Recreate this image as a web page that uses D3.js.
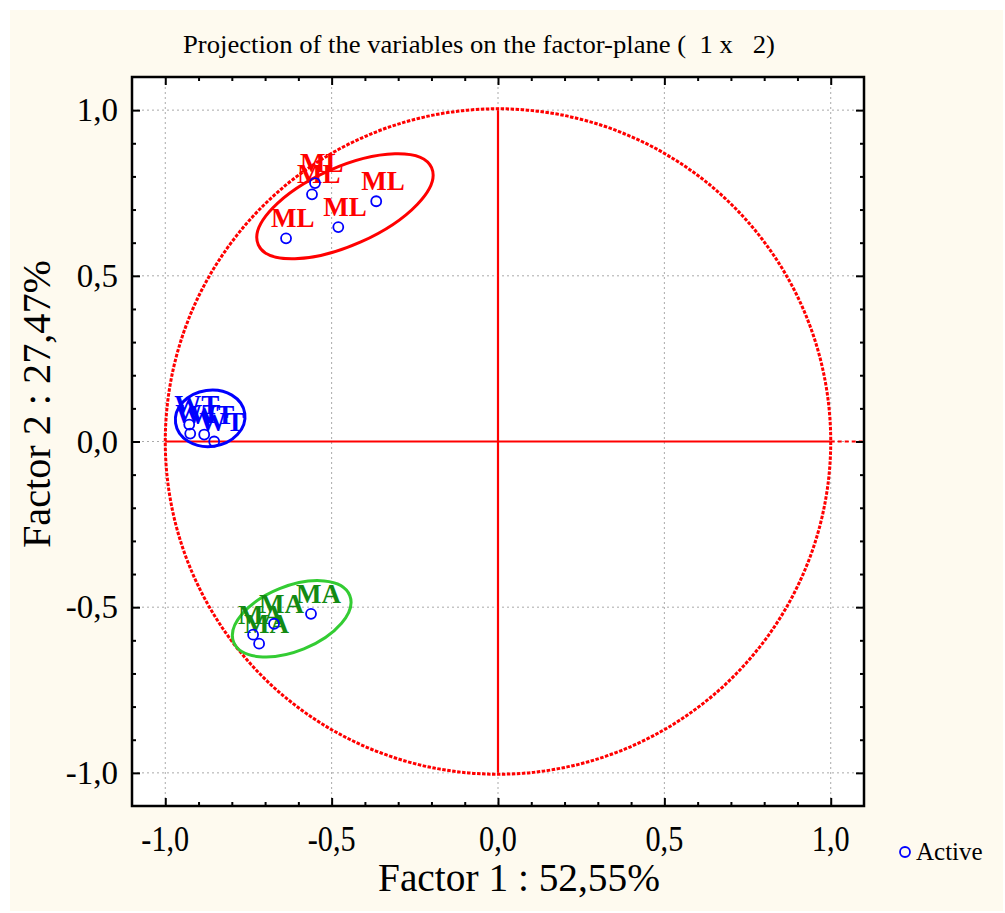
<!DOCTYPE html>
<html>
<head>
<meta charset="utf-8">
<script src="https://cdn.jsdelivr.net/npm/d3@7"></script>
<style>
  body { margin: 0; background: #fff; }
  svg text { font-family: "Liberation Serif", "Times New Roman", Times, serif; }
</style>
</head>
<body>
<div id="container"></div>
<script>
// variable coordinates on factor 1 / factor 2
var mlX = [-0.637, -0.559, -0.550, -0.480, -0.366];
var mlY = [0.613, 0.746, 0.780, 0.647, 0.725];
var wtX = [-0.928, -0.925, -0.883, -0.853];
var wtY = [0.051, 0.024, 0.021, 0.000];
var maX = [-0.736, -0.718, -0.673, -0.562];
var maY = [-0.583, -0.610, -0.550, -0.520];

var groupNames = ['ML', 'WT', 'MA'];
var groupColors = ['#ff0000', '#0000ff', '#138a13'];
var ellipseColors = ['#ff0000', '#0000ff', '#33cc33'];
// ellipse centre, radii (factor units) and tilt (degrees)
var ellCx = [-0.46, -0.865, -0.62];
var ellCy = [0.710, 0.070, -0.535];
var ellRx = [0.285, 0.105, 0.188];
var ellRy = [0.118, 0.085, 0.098];
var ellRot = [-24, -8, -22];

var ticks = [-1.0, -0.5, 0.0, 0.5, 1.0];
var tickLabels = ['-1,0', '-0,5', '0,0', '0,5', '1,0'];
var minorTicks = d3.range(-10, 11).map(function(d) { return d / 10; });

var title = 'Projection of the variables on the factor-plane (  1 x   2)';
var xTitle = 'Factor 1 : 52,55%';
var yTitle = 'Factor 2 : 27,47%';

(function() {
  var width = 1005, height = 913;
  var left = 132, right = 864, top = 77, bottom = 806;
  var serif = '"Liberation Serif", "Times New Roman", serif';

  var svg = d3.select('#container').append('svg')
    .attr('width', width).attr('height', height)
    .attr('font-family', serif);

  svg.append('rect')
    .attr('x', 10).attr('y', 10)
    .attr('width', width - 12).attr('height', height - 12)
    .attr('fill', '#fefaef');

  var x = d3.scaleLinear().domain([-1.1, 1.1]).range([left, right]);
  var y = d3.scaleLinear().domain([-1.1, 1.1]).range([bottom, top]);

  svg.append('rect')
    .attr('x', left).attr('y', top)
    .attr('width', right - left).attr('height', bottom - top)
    .attr('fill', '#fff');

  // grid
  var grid = svg.append('g').attr('stroke', '#aaa').attr('stroke-dasharray', '2,3').attr('stroke-width', 1);
  ticks.forEach(function(t) {
    grid.append('line').attr('x1', x(t)).attr('x2', x(t)).attr('y1', top).attr('y2', bottom);
    grid.append('line').attr('y1', y(t)).attr('y2', y(t)).attr('x1', left).attr('x2', right);
  });

  // unit circle and axes through origin
  svg.append('circle')
    .attr('cx', x(0)).attr('cy', y(0)).attr('r', x(1) - x(0))
    .attr('fill', 'none').attr('stroke', '#ff0000')
    .attr('stroke-width', 3).attr('stroke-dasharray', '3.5,1.5');
  svg.append('line')
    .attr('x1', x(0)).attr('x2', x(0)).attr('y1', y(1)).attr('y2', y(-1))
    .attr('stroke', '#ff0000').attr('stroke-width', 2.2);
  svg.append('line')
    .attr('x1', x(-1)).attr('x2', x(1)).attr('y1', y(0)).attr('y2', y(0))
    .attr('stroke', '#ff0000').attr('stroke-width', 2.2);
  svg.append('line')
    .attr('x1', x(1)).attr('x2', right).attr('y1', y(0)).attr('y2', y(0))
    .attr('stroke', '#ff0000').attr('stroke-width', 2.2).attr('stroke-dasharray', '4,3');

  // axes with inward ticks on all four sides
  function drawAxis(axis, transform) {
    var g = svg.append('g').attr('transform', transform)
      .call(axis.tickValues(minorTicks).tickSizeInner(-4).tickSizeOuter(0).tickFormat(''));
    g.select('.domain').remove();
    g.selectAll('line').attr('stroke', '#000').attr('stroke-width', 2);
    g.selectAll('.tick').filter(function(d) { return ticks.indexOf(Math.round(d * 10) / 10) >= 0; })
      .select('line').each(function() {
        var l = d3.select(this);
        if (l.attr('y2') !== null && +l.attr('y2') !== 0) l.attr('y2', +l.attr('y2') * 2);
        if (l.attr('x2') !== null && +l.attr('x2') !== 0) l.attr('x2', +l.attr('x2') * 2);
      });
    return g;
  }
  drawAxis(d3.axisBottom(x), 'translate(0,' + bottom + ')');
  drawAxis(d3.axisTop(x), 'translate(0,' + top + ')');
  drawAxis(d3.axisLeft(y), 'translate(' + left + ',0)');
  drawAxis(d3.axisRight(y), 'translate(' + right + ',0)');

  svg.append('rect')
    .attr('x', left).attr('y', top)
    .attr('width', right - left).attr('height', bottom - top)
    .attr('fill', 'none').attr('stroke', '#000').attr('stroke-width', 2.5);

  // tick labels (x labels are narrow, like the reference)
  svg.append('g').selectAll('text').data(ticks).enter().append('text')
    .attr('transform', function(d) { return 'translate(' + x(d) + ',' + (bottom + 45) + ') scale(0.84,1)'; })
    .attr('text-anchor', 'middle')
    .attr('font-size', 36)
    .text(function(d, i) { return tickLabels[i]; });
  svg.append('g').selectAll('text').data(ticks).enter().append('text')
    .attr('x', left - 14)
    .attr('y', function(d) { return y(d) + 11; })
    .attr('text-anchor', 'end')
    .attr('font-size', 33)
    .text(function(d, i) { return tickLabels[i]; });

  // titles
  svg.append('text')
    .attr('x', 479).attr('y', 53)
    .attr('text-anchor', 'middle').attr('font-size', 25)
    .attr('textLength', 592).attr('lengthAdjust', 'spacingAndGlyphs')
    .style('white-space', 'pre')
    .text(title);
  svg.append('text')
    .attr('x', 519).attr('y', 891)
    .attr('text-anchor', 'middle').attr('font-size', 40)
    .attr('textLength', 282).attr('lengthAdjust', 'spacingAndGlyphs')
    .text(xTitle);
  svg.append('text')
    .attr('transform', 'translate(50,404) rotate(-90)')
    .attr('text-anchor', 'middle').attr('font-size', 40)
    .attr('textLength', 288).attr('lengthAdjust', 'spacingAndGlyphs')
    .text(yTitle);

  // ellipses
  groupNames.forEach(function(name, i) {
    svg.append('ellipse')
      .attr('transform', 'translate(' + x(ellCx[i]) + ',' + y(ellCy[i]) + ') rotate(' + ellRot[i] + ')')
      .attr('rx', x(ellRx[i]) - x(0)).attr('ry', y(0) - y(ellRy[i]))
      .attr('fill', 'none').attr('stroke', ellipseColors[i]).attr('stroke-width', 3);
  });

  // points and labels
  var sets = [[mlX, mlY], [wtX, wtY], [maX, maY]];
  sets.forEach(function(s, gi) {
    var pts = s[0].map(function(v, i) { return { x: v, y: s[1][i] }; });
    var g = svg.append('g').classed('group', true);
    g.selectAll('text').data(pts).enter().append('text')
      .attr('x', function(d) { return x(d.x) - 15; })
      .attr('y', function(d) { return y(d.y) - 11; })
      .attr('font-size', 27).attr('font-weight', 'bold')
      .attr('fill', groupColors[gi])
      .text(groupNames[gi]);
    g.selectAll('circle').data(pts).enter().append('circle')
      .attr('cx', function(d) { return x(d.x); })
      .attr('cy', function(d) { return y(d.y); })
      .attr('r', 5)
      .attr('fill', 'none').attr('stroke', '#0000ff').attr('stroke-width', 1.8);
  });

  // legend
  svg.append('circle').attr('cx', 905).attr('cy', 852).attr('r', 5)
    .attr('fill', 'none').attr('stroke', '#0000ff').attr('stroke-width', 1.8);
  svg.append('text').attr('x', 916).attr('y', 860).attr('font-size', 25).text('Active');
})();
</script>
</body>
</html>
